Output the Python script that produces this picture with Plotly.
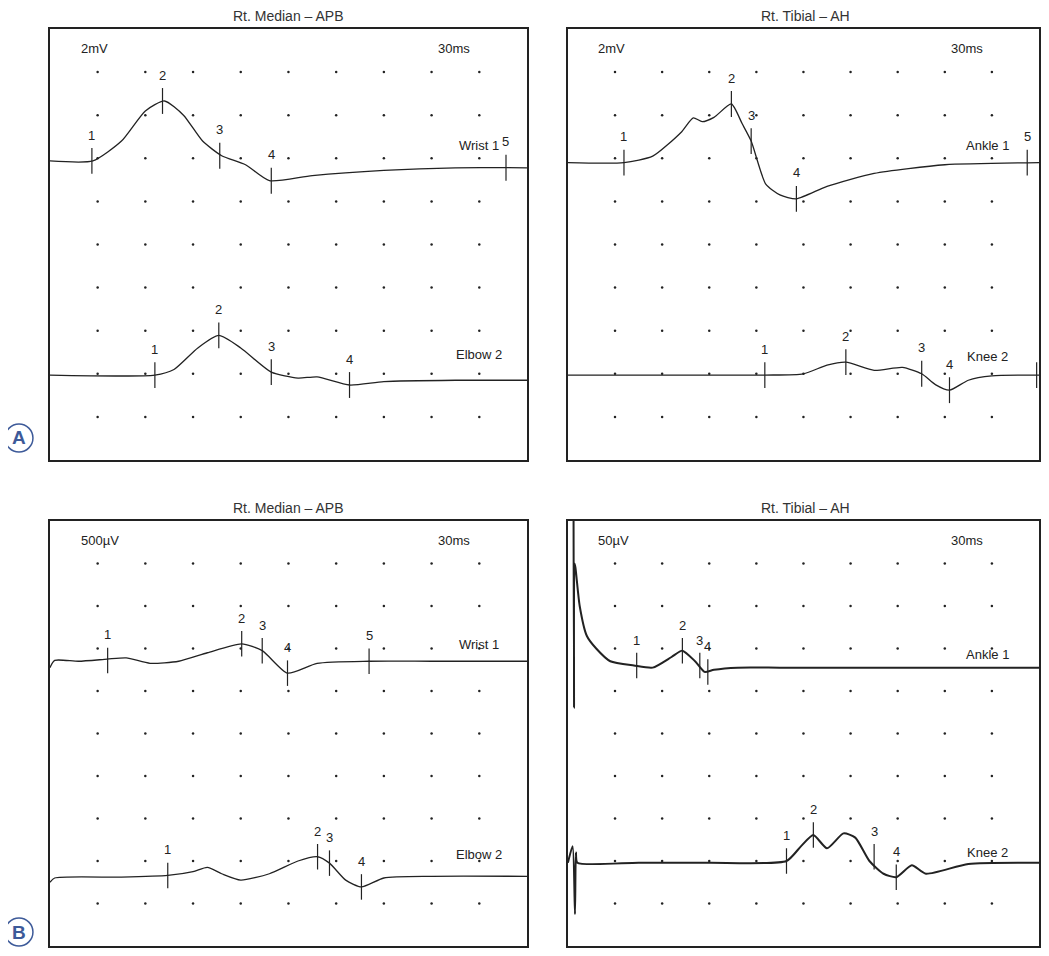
import numpy as np
import plotly.graph_objects as go

W, H = 1049, 956
OFF = 8  # page body margin in the browser
FW, FH = W - 2 * OFF, H - 2 * OFF

# panel titles and headers
titles = ["Rt. Median – APB", "Rt. Tibial – AH", "Rt. Median – APB", "Rt. Tibial – AH"]
gains = ["2mV", "2mV", "500µV", "50µV"]
sweep = "30ms"

# waveforms: x in divisions (3 ms/div), y in divisions from the bottom
a1_x = [0.0, 0.9, 1.5, 2.0, 2.4, 2.8, 3.2, 3.6, 4.1, 4.6, 5.5, 7.0, 8.5, 10.0]
a1_y = [6.94, 6.94, 7.4, 8.1, 8.33, 8.0, 7.4, 7.06, 6.85, 6.48, 6.6, 6.72, 6.78, 6.78]
a1_tx = [0.88, 2.36, 3.56, 4.64, 9.56]
a1_ty = [6.94, 8.33, 7.06, 6.48, 6.78]
a1_tn = ["1", "2", "3", "4", "5"]

a2_x = [0.0, 2.2, 2.6, 3.1, 3.54, 4.0, 4.64, 5.2, 5.6, 6.28, 7.0, 8.5, 10.0]
a2_y = [1.97, 1.97, 2.1, 2.6, 2.89, 2.6, 2.04, 1.9, 1.93, 1.74, 1.82, 1.85, 1.85]
a2_tx = [2.2, 3.54, 4.64, 6.28]
a2_ty = [1.97, 2.89, 2.04, 1.74]
a2_tn = ["1", "2", "3", "4"]

b1_x = [0.0, 1.19, 1.8, 2.4, 2.66, 2.85, 3.1, 3.47, 3.7, 3.89, 4.2, 4.5, 4.85, 5.5, 6.5, 8.0, 10.0]
b1_y = [6.9, 6.9, 7.05, 7.6, 7.94, 7.85, 7.95, 8.26, 7.8, 7.4, 6.4, 6.15, 6.06, 6.35, 6.65, 6.85, 6.9]
b1_tx = [1.19, 3.47, 3.89, 4.85, 9.75]
b1_ty = [6.9, 8.26, 7.4, 6.06, 6.9]
b1_tn = ["1", "2", "3", "4", "5"]

b2_x = [0.0, 4.18, 5.0, 5.5, 5.9, 6.5, 7.1, 7.51, 7.8, 8.1, 8.5, 9.0, 10.0]
b2_y = [1.97, 1.97, 2.0, 2.2, 2.27, 2.08, 2.15, 2.0, 1.75, 1.62, 1.85, 1.95, 1.97]
b2_tx = [4.18, 5.9, 7.51, 8.1, 9.95]
b2_ty = [1.97, 2.27, 2.0, 1.62, 1.97]
b2_tn = ["1", "2", "3", "4", ""]

c1_x = [0.0, 0.1, 0.6, 1.2, 1.6, 2.1, 2.7, 3.3, 4.02, 4.45, 4.98, 5.6, 6.69, 8.0, 10.0]
c1_y = [6.55, 6.72, 6.7, 6.75, 6.78, 6.65, 6.7, 6.9, 7.11, 6.95, 6.42, 6.65, 6.7, 6.7, 6.7]
c1_tx = [1.21, 4.02, 4.45, 4.98, 6.69]
c1_ty = [6.72, 7.11, 6.95, 6.42, 6.7]
c1_tn = ["1", "2", "3", "4", "5"]

c2_x = [0.0, 0.1, 1.5, 2.47, 3.0, 3.3, 3.6, 4.0, 4.6, 5.2, 5.61, 5.86, 6.2, 6.53, 7.0, 8.0, 10.0]
c2_y = [1.5, 1.6, 1.62, 1.66, 1.75, 1.85, 1.7, 1.55, 1.7, 2.0, 2.1, 1.95, 1.55, 1.39, 1.6, 1.64, 1.64]
c2_tx = [2.47, 5.61, 5.86, 6.53]
c2_ty = [1.66, 2.1, 1.95, 1.39]
c2_tn = ["1", "2", "3", "4"]

d1_x = [0.12, 0.13, 0.14, 0.16, 0.25, 0.4, 0.6, 0.9, 1.4, 1.8, 2.2, 2.43, 2.7, 2.9, 3.1, 3.6, 4.5, 6.0, 10.0]
d1_y = [10.0, 5.6, 9.0, 8.9, 8.0, 7.3, 7.0, 6.7, 6.6, 6.55, 6.8, 6.95, 6.7, 6.45, 6.5, 6.55, 6.55, 6.55, 6.55]
d1_tx = [1.46, 2.43, 2.8, 2.97]
d1_ty = [6.6, 6.95, 6.6, 6.45]
d1_tn = ["1", "2", "3", "4"]

d2_x = [0.0, 0.1, 0.15, 0.17, 0.2, 1.5, 3.0, 4.64, 4.95, 5.21, 5.5, 5.85, 6.1, 6.4, 6.7, 6.97, 7.3, 7.6, 8.5, 10.0]
d2_y = [1.96, 2.35, 0.75, 2.2, 1.96, 1.96, 1.96, 2.0, 2.35, 2.61, 2.3, 2.65, 2.55, 2.0, 1.7, 1.62, 1.9, 1.7, 1.93, 1.96]
d2_tx = [4.64, 5.21, 6.5, 6.97]
d2_ty = [2.0, 2.61, 2.1, 1.62]
d2_tn = ["1", "2", "3", "4"]

# trace labels: (text, x, y)
labels = [
    [("Wrist 1", 9.0, 7.3), ("Elbow 2", 9.0, 2.45)],
    [("Ankle 1", 8.9, 7.3), ("Knee 2", 8.9, 2.4)],
    [("Wrist 1", 9.0, 7.1), ("Elbow 2", 9.0, 2.15)],
    [("Ankle 1", 8.9, 6.85), ("Knee 2", 8.9, 2.2)],
]

panels = [
    [(a1_x, a1_y, a1_tx, a1_ty, a1_tn), (a2_x, a2_y, a2_tx, a2_ty, a2_tn)],
    [(b1_x, b1_y, b1_tx, b1_ty, b1_tn), (b2_x, b2_y, b2_tx, b2_ty, b2_tn)],
    [(c1_x, c1_y, c1_tx, c1_ty, c1_tn), (c2_x, c2_y, c2_tx, c2_ty, c2_tn)],
    [(d1_x, d1_y, d1_tx, d1_ty, d1_tn), (d2_x, d2_y, d2_tx, d2_ty, d2_tn)],
]

# pixel boxes of panels on the page (left, top, right, bottom)
boxes = [(50, 29, 528, 460), (569, 29, 1045, 460), (50, 521, 528, 946), (569, 521, 1045, 946)]


def px(v):
    return (v - OFF) / FW


def py(v):
    return 1 - (v - OFF) / FH


fig = go.Figure()
font = "Liberation Sans, Arial, sans-serif"
gx, gy = np.meshgrid(np.arange(1, 10), np.arange(1, 10))

for p, (l, t, r, b) in enumerate(boxes):
    n = "" if p == 0 else str(p + 1)
    xa, ya = "x" + n, "y" + n
    fig.layout["xaxis" + n] = dict(domain=[px(l), min(px(r), 1)], range=[0, 10], anchor=ya,
                                   showgrid=False, zeroline=False, showticklabels=False,
                                   showline=True, mirror=True, linecolor="#222", linewidth=1.5)
    fig.layout["yaxis" + n] = dict(domain=[max(py(b), 0), py(t)], range=[0, 10], anchor=xa,
                                   showgrid=False, zeroline=False, showticklabels=False,
                                   showline=True, mirror=True, linecolor="#222", linewidth=1.5)
    fig.add_trace(go.Scatter(x=gx.ravel(), y=gy.ravel(), mode="markers", xaxis=xa, yaxis=ya,
                             marker=dict(size=2.5, color="#222"), hoverinfo="skip"))
    lw = 2 if p == 3 else 1.3
    for tx, ty, mx, my, mn in panels[p]:
        fig.add_trace(go.Scatter(x=tx, y=ty, mode="lines", xaxis=xa, yaxis=ya,
                                 line=dict(color="#222", width=lw, shape="spline", smoothing=0.6)))
        sx, sy = [], []
        for u, v, lab in zip(mx, my, mn):
            sx += [u, u, None]
            sy += [v - 0.3, v + 0.3, None]
            if lab:
                fig.add_annotation(x=u, y=v + 0.6, text=lab, showarrow=False, xref=xa, yref=ya,
                                   font=dict(size=13, color="#222", family=font))
        fig.add_trace(go.Scatter(x=sx, y=sy, mode="lines", xaxis=xa, yaxis=ya,
                                 line=dict(color="#222", width=1.2)))
    for txt, u, v in labels[p]:
        fig.add_annotation(x=u, y=v, text=txt, showarrow=False, xref=xa, yref=ya,
                           font=dict(size=13, color="#222", family=font))
    fig.add_annotation(x=0.6, y=9.55, text=gains[p], showarrow=False, xref=xa, yref=ya,
                       xanchor="left", font=dict(size=13, color="#222", family=font))
    fig.add_annotation(x=8.1, y=9.55, text=sweep, showarrow=False, xref=xa, yref=ya,
                       xanchor="left", font=dict(size=13, color="#222", family=font))
    fig.add_annotation(x=px((l + r) / 2), y=py(t - 13), text=titles[p], showarrow=False,
                       xref="paper", yref="paper", xanchor="center", yanchor="middle",
                       font=dict(size=14, color="#333", family=font))

# circled panel letters
for letter, cy in [("A", 438), ("B", 932)]:
    fig.add_shape(type="circle", xref="paper", yref="paper",
                  x0=px(5), x1=px(33), y0=py(cy + 14), y1=py(cy - 14),
                  line=dict(color="#3d5a99", width=1.5), fillcolor="white")
    fig.add_annotation(x=px(19), y=py(cy), text="<b>" + letter + "</b>", showarrow=False,
                       xref="paper", yref="paper", xanchor="center", yanchor="middle",
                       font=dict(size=19, color="#3d5a99", family=font))

fig.update_layout(width=FW, height=FH, margin=dict(l=0, r=0, t=0, b=0), showlegend=False,
                  plot_bgcolor="white", paper_bgcolor="white")
fig.write_html("out.html")
